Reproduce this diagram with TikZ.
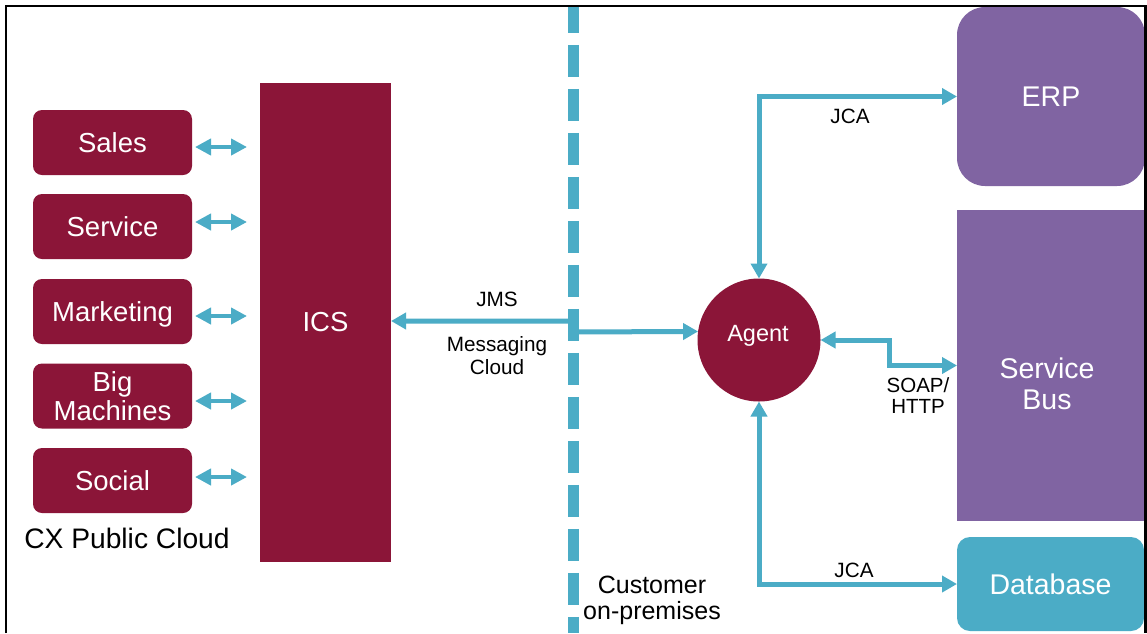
\documentclass[tikz,border=0pt]{standalone}
\usepackage{fontspec}
\setmainfont{Liberation Sans}
\usetikzlibrary{arrows.meta}
\definecolor{cxred}{HTML}{8B1538}
\definecolor{cxpurple}{HTML}{8064A2}
\definecolor{cxteal}{HTML}{4BACC6}
\begin{document}
\begin{tikzpicture}[x=1pt,y=-1pt,
  appbox/.style={fill=cxred, rounded corners=9pt, minimum width=159pt, minimum height=65pt,
    inner sep=0pt, outer sep=0pt, text=white, align=center, font=\fontsize{27.5}{28.5}\selectfont},
  bigfont/.style={font=\fontsize{28.5}{31}\selectfont},
  lbl/.style={text=black, inner sep=0pt, align=center, font=\fontsize{20.7}{23}\selectfont},
  conn/.style={draw=cxteal, line width=5pt,
    {Triangle[width=16pt,length=15pt]}-{Triangle[width=16pt,length=15pt]}},
  dbl/.style={draw=cxteal, line width=4.5pt,
    {Triangle[width=16pt,length=16pt]}-{Triangle[width=16pt,length=16pt]},
    shorten <=3pt, shorten >=13pt}
]
\useasboundingbox (0,0) rectangle (1147,633);
\fill[white] (0,0) rectangle (1147,633);

% left application boxes
\node[appbox] (sales) at (112.5,142.5) {Sales};
\node[appbox] (service) at (112.5,226.5) {Service};
\node[appbox, text depth=0pt] (marketing) at (112.5,311.5) {Marketing};
\node[appbox] (bigm) at (112.5,396) {Big\\Machines};
\node[appbox] (social) at (112.5,480.5) {Social};
\node[anchor=base, inner sep=0pt, font=\fontsize{28.2}{30}\selectfont] (cxlabel) at (127,548) {CX Public Cloud};

% ICS
\node[fill=cxred, minimum width=131pt, minimum height=479pt, inner sep=0pt, outer sep=0pt,
  text=white, font=\fontsize{27.5}{30}\selectfont] (ics) at (325.5,322.5) {ICS};

% double arrows
\draw[dbl] ([yshift=-4.5pt]sales.east) -- ([yshift=-4.5pt]ics.west |- sales.east);
\draw[dbl] ([yshift=4.5pt]service.east) -- ([yshift=4.5pt]ics.west |- service.east);
\draw[dbl] ([yshift=-4.5pt]marketing.east) -- ([yshift=-4.5pt]ics.west |- marketing.east);
\draw[dbl] ([yshift=-5pt]bigm.east) -- ([yshift=-5pt]ics.west |- bigm.east);
\draw[dbl] ([yshift=3.5pt]social.east) -- ([yshift=3.5pt]ics.west |- social.east);

% Agent
\node[circle, fill=cxred, minimum size=123pt, inner sep=0pt, outer sep=0pt] (agent) at (759,340) {};
\node[anchor=base, inner sep=0pt, text=white, font=\fontsize{23.5}{26}\selectfont] (agentlabel) at (758,341.5) {Agent};

% right boxes
\node[fill=cxpurple, rounded corners=28pt, minimum width=188pt, minimum height=179pt,
  inner sep=0pt, outer sep=0pt, text=white, bigfont] (erp) at (1051,96.5) {ERP};
\node[fill=cxpurple, minimum width=188pt, minimum height=311pt,
  inner sep=0pt, outer sep=0pt] (bus) at (1051,365.5) {};
\node[text=white, inner sep=0pt, align=center, bigfont] (buslabel) at (1047,383.5) {Service\\Bus};
\node[fill=cxteal, rounded corners=13pt, minimum width=187pt, minimum height=94pt,
  inner sep=0pt, outer sep=0pt, text=white, bigfont] (db) at (1050.5,584) {Database};

% connectors
\coordinate (jt) at (573.5,321);
\coordinate (jb) at (573.5,332);
\coordinate (soapbend) at (889,340);
\draw[conn] (ics.east |- jt) -- (jt) -- (jb) -- (agent.172.5);
\draw[conn] (agent.north) |- (erp.west);
\draw[conn] (agent.east) -- (soapbend) |- (bus.west);
\draw[conn] (agent.south) |- (db.west);

% labels
\node[lbl, anchor=base] (jms) at (497,306) {JMS};
\node[lbl] (msgcloud) at (497,355.4) {Messaging\\Cloud};
\node[lbl, anchor=base] (jcatop) at (850,123) {JCA};
\node[lbl, anchor=base] (jcabot) at (854,577) {JCA};
\node[lbl, font=\fontsize{20.5}{21}\selectfont] (soap) at (918,396) {SOAP/\\HTTP};
\node[lbl, font=\fontsize{25}{26}\selectfont] (onprem) at (652,600) {Customer\\on-premises};

% dashed boundary
\draw[cxteal, line width=11pt, dash pattern=on 32.5pt off 11.5pt, dash phase=6.2pt]
  (573.5,7) -- (573.5,633);

% frame
\draw[black, line width=2.2pt] (6,633) -- (6,6) -- (1145.5,6) -- (1145.5,633);
\end{tikzpicture}
\end{document}
